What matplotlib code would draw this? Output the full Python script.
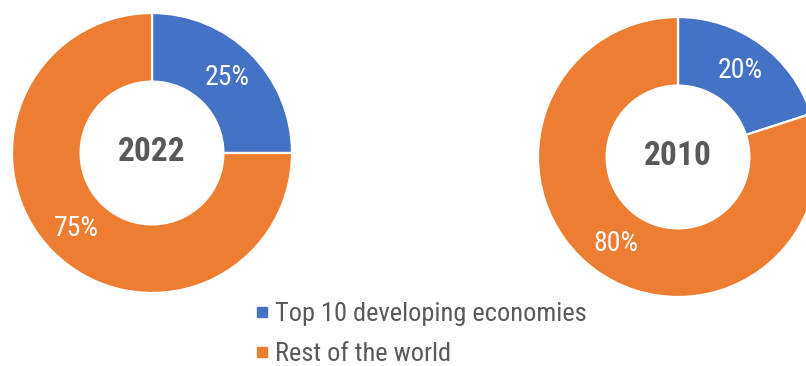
import matplotlib.pyplot as plt
from matplotlib import font_manager
from matplotlib.lines import Line2D

available = {f.name for f in font_manager.fontManager.ttflist}
narrow = None
for name in ['Roboto Condensed', 'Liberation Sans Narrow', 'Open Sans Condensed']:
    if name in available:
        narrow = name
        break

if narrow:
    plt.rcParams['font.family'] = [narrow, 'DejaVu Sans']
    size_pct, size_year, size_leg = 20, 24, 19
else:
    plt.rcParams['font.family'] = ['Roboto', 'DejaVu Sans']
    size_pct, size_year, size_leg = 18.5, 22, 16

labels = ["Top 10 developing economies", "Rest of the world"]
years = ["2022", "2010"]
shares = {"2022": [25, 75], "2010": [20, 80]}
colors = ["#4472C4", "#ED7D31"]
grey = "#595959"

W, H = 806, 366
fig = plt.figure(figsize=(W / 100, H / 100), dpi=100)
ax = fig.add_axes([0, 0, 1, 1])

# donut centres in pixel coords (y up), radius in pixels
centres = {"2022": (152, H - 153), "2010": (678, H - 157)}
R = 140

for yr in years:
    cx, cy = centres[yr]
    wedges, texts, autotexts = ax.pie(
        shares[yr], colors=colors, startangle=90, counterclock=False,
        center=(cx, cy), radius=R, autopct='%d%%', pctdistance=0.76,
        wedgeprops=dict(width=R * 0.49, edgecolor='white', linewidth=1.6),
        textprops=dict(color='white', fontsize=size_pct))
    ax.text(cx, cy + 1, yr, ha='center', va='center', fontsize=size_year,
            fontweight='bold', color=grey)

ax.set_xlim(0, W)
ax.set_ylim(0, H)
ax.set_aspect('auto')
ax.axis('off')

handles = [Line2D([], [], marker='s', linestyle='none', markersize=7.5,
                  markerfacecolor=c, markeredgecolor=c) for c in colors]
ax.legend(handles, labels, loc='center left', bbox_to_anchor=(254, 32),
          bbox_transform=ax.transData, frameon=False, fontsize=size_leg,
          labelcolor=grey, handlelength=0.6, handletextpad=0.2,
          labelspacing=0.6, borderpad=0, borderaxespad=0)

fig.savefig("out.png", dpi=100)
